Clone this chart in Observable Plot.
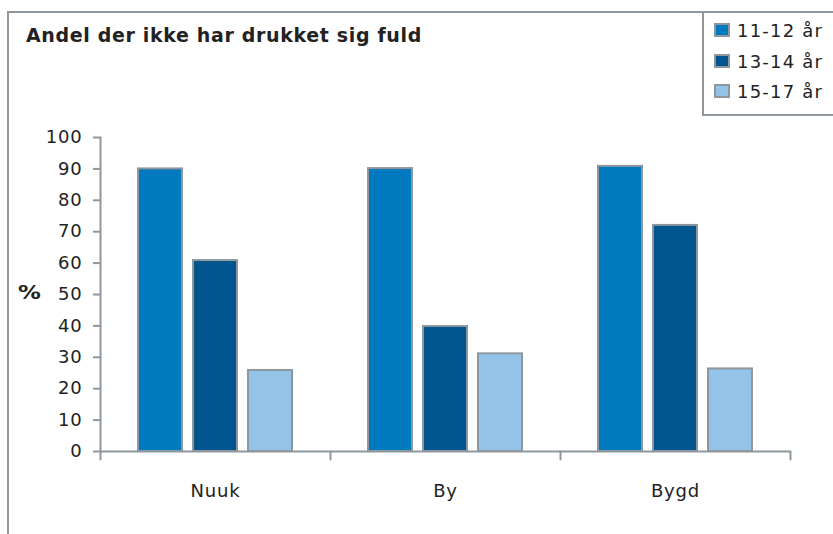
<!DOCTYPE html>
<html><head><meta charset="utf-8">
<script src="https://cdn.jsdelivr.net/npm/d3@7"></script>
<script src="https://cdn.jsdelivr.net/npm/@observablehq/plot@0.6"></script>
<style>
body{margin:0;background:#fff;font-family:"DejaVu Sans",sans-serif;color:#222;}
#wrap{position:relative;width:833px;height:534px;overflow:hidden;background:#fff;}
#frame{position:absolute;left:7px;top:11px;width:900px;height:600px;border-left:2px solid #8e979e;border-top:2px solid #8e979e;}
#title{position:absolute;left:26px;top:26px;font-weight:bold;font-size:19px;letter-spacing:0.65px;line-height:1;white-space:nowrap;}
#ylab{position:absolute;left:18px;top:283px;font-weight:bold;font-size:19px;line-height:1;transform:scaleX(1.2);transform-origin:left top;}
#legend{position:absolute;left:702px;top:11px;width:140px;height:101px;border:2px solid #8e979e;background:#fff;}
.row{position:absolute;left:0;height:20px;}
.sw{position:absolute;left:10px;top:0;width:12px;height:10px;border:2px solid #8e979e;}
.lt{position:absolute;left:33px;top:-1px;font-size:18px;letter-spacing:1.2px;line-height:1;white-space:nowrap;}
#chart{position:absolute;left:0;top:0;}
</style></head>
<body>
<div id="wrap">
<div id="frame"></div>
<div id="chart"></div>
<div id="title">Andel der ikke har drukket sig fuld</div>
<div id="ylab">%</div>
<div id="legend"></div>
</div>
<script>
const categories = ["Nuuk", "By", "Bygd"];
const ages = ["11-12 år", "13-14 år", "15-17 år"];
const v1112 = [90.0, 90.1, 90.8];
const v1314 = [60.8, 39.8, 72.0];
const v1517 = [25.8, 31.1, 26.3];
const colors = ["#0079be", "#00558f", "#93c4e8"];
const yTicks = [0, 10, 20, 30, 40, 50, 60, 70, 80, 90, 100];

const series = [v1112, v1314, v1517];
const data = [];
categories.forEach((c, i) => ages.forEach((a, j) => data.push({cat: c, age: a, value: series[j][i]})));

const gray = "#8e979e";
const tickShape = {draw(context, l) { context.moveTo(0, 0); context.lineTo(0, -l); }};

const chart = Plot.plot({
  width: 833, height: 534,
  marginLeft: 100, marginRight: 43, marginTop: 137, marginBottom: 83,
  style: {fontFamily: "DejaVu Sans, sans-serif", fontSize: "18px", letterSpacing: "0.8px", color: "#222", background: "transparent", overflow: "visible"},
  fx: {domain: categories, padding: 0, label: null},
  x: {domain: ages, paddingInner: 0.1636, paddingOuter: 0.6727, axis: null},
  y: {domain: [0, 100], axis: null},
  color: {domain: ages, range: colors},
  marks: [
    Plot.barY(data, {fx: "cat", x: "age", y: "value", fill: "age", stroke: gray, strokeWidth: 2, insetLeft: 1, insetRight: 1}),
    Plot.ruleY([0], {stroke: gray, strokeWidth: 2}),
    Plot.frame({anchor: "left", stroke: gray, strokeWidth: 2, facetAnchor: "left"}),
    Plot.axisY({ticks: yTicks, tickSize: 7, tickPadding: 11, stroke: gray, strokeWidth: 2, fill: "#222", label: null, tickFormat: d => String(d)}),
    Plot.vector([0], {frameAnchor: "bottom-left", length: 8, rotate: 180, anchor: "start", shape: tickShape, stroke: gray, strokeWidth: 2}),
    Plot.vector([categories[categories.length - 1]], {fx: d => d, frameAnchor: "bottom-right", length: 8, rotate: 180, anchor: "start", shape: tickShape, stroke: gray, strokeWidth: 2}),
    Plot.axisFx({anchor: "bottom", tickSize: 0, tickPadding: 33, label: null, fill: "#222"})
  ]
});
document.getElementById("chart").appendChild(chart);

const legend = document.getElementById("legend");
ages.forEach((a, i) => {
  const row = document.createElement("div");
  row.className = "row";
  row.style.top = (10 + i * 30.5) + "px";
  const sw = document.createElement("div");
  sw.className = "sw";
  sw.style.background = colors[i];
  const t = document.createElement("div");
  t.className = "lt";
  t.textContent = a;
  row.appendChild(sw); row.appendChild(t);
  legend.appendChild(row);
});
</script>
</body></html>
